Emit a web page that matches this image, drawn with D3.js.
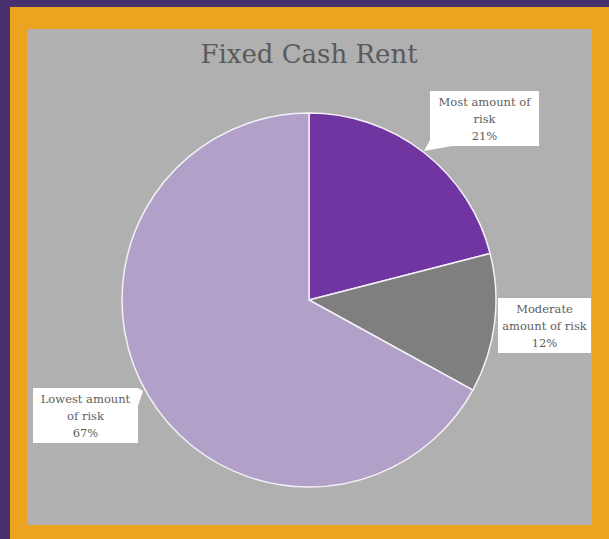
<!DOCTYPE html>
<html>
<head>
<meta charset="utf-8">
<script src="https://cdn.jsdelivr.net/npm/d3@7"></script>
<style>
  html, body { margin: 0; padding: 0; background: #46306e; }
  svg { display: block; }
</style>
</head>
<body>
<div id="chart"></div>
<script>
// chart data
const categories = ["Most amount of risk", "Moderate amount of risk", "Lowest amount of risk"];
const shares = [21, 12, 67];
const labelLines = [
  ["Most amount of", "risk"],
  ["Moderate", "amount of risk"],
  ["Lowest amount", "of risk"]
];
const sliceColors = ["#7035a0", "#7f7f7f", "#b1a0c8"];
const title = "Fixed Cash Rent";

const width = 609, height = 539;

const svg = d3.select("#chart")
  .append("svg")
  .attr("width", width)
  .attr("height", height);

// frame: purple outer, gold band, gray plot area
svg.append("rect").attr("width", width).attr("height", height).attr("fill", "#46306e");
svg.append("rect").attr("x", 10).attr("y", 7).attr("width", 599).attr("height", 532).attr("fill", "#eca420");
svg.append("rect").attr("x", 27).attr("y", 29).attr("width", 565).attr("height", 496).attr("fill", "#b0b0b0");

svg.append("text")
  .attr("x", 309)
  .attr("y", 63)
  .attr("text-anchor", "middle")
  .style("font-family", "'DejaVu Serif', serif")
  .style("font-size", "26px")
  .style("fill", "#5a5a5a")
  .text(title);

const cx = 309, cy = 300, r = 187;
const g = svg.append("g").attr("transform", "translate(" + cx + "," + cy + ")");

const data = categories.map((c, i) => ({ name: c, value: shares[i], lines: labelLines[i], color: sliceColors[i] }));

const pie = d3.pie().sort(null).value(d => d.value);
const arc = d3.arc().innerRadius(0).outerRadius(r);
const arcs = pie(data);

g.selectAll("path.slice")
  .data(arcs)
  .enter()
  .append("path")
    .attr("class", "slice")
    .attr("d", arc)
    .attr("fill", d => d.data.color)
    .attr("stroke", "#f4f0f8")
    .attr("stroke-width", 1.5);

// callout boxes (page coords), with a small pointer toward the slice
const boxes = [
  { x: 430, y: 91, w: 109, h: 55, corner: "bl" },
  { x: 498, y: 298, w: 93, h: 55, corner: null },
  { x: 33, y: 388, w: 105, h: 55, corner: "tr" }
];

const labels = svg.append("g");
arcs.forEach((a, i) => {
  const b = boxes[i];
  const grp = labels.append("g");
  let path = "M" + b.x + "," + b.y + "h" + b.w + "v" + b.h + "h" + (-b.w) + "Z";
  if (b.corner === "bl") {
    path = "M" + b.x + "," + b.y + "h" + b.w + "v" + b.h + "h" + (-b.w + 22) +
      "L" + (b.x - 6) + "," + (b.y + b.h + 5) + "L" + b.x + "," + (b.y + b.h - 6) + "Z";
  } else if (b.corner === "tr") {
    path = "M" + b.x + "," + b.y + "h" + b.w + "L" + (b.x + b.w + 5) + "," + (b.y + 3) +
      "L" + (b.x + b.w) + "," + (b.y + 18) + "V" + (b.y + b.h) + "H" + b.x + "Z";
  }
  grp.append("path").attr("d", path).attr("fill", "#ffffff");
  const t = grp.append("text")
    .attr("text-anchor", "middle")
    .style("font-family", "'DejaVu Serif', serif")
    .style("font-size", "11.5px")
    .style("fill", "#5e5e5e");
  const lines = a.data.lines.concat([a.data.value + "%"]);
  lines.forEach((ln, j) => {
    t.append("tspan")
      .attr("x", b.x + b.w / 2)
      .attr("y", b.y + 15 + j * 17)
      .text(ln);
  });
});
</script>
</body>
</html>
